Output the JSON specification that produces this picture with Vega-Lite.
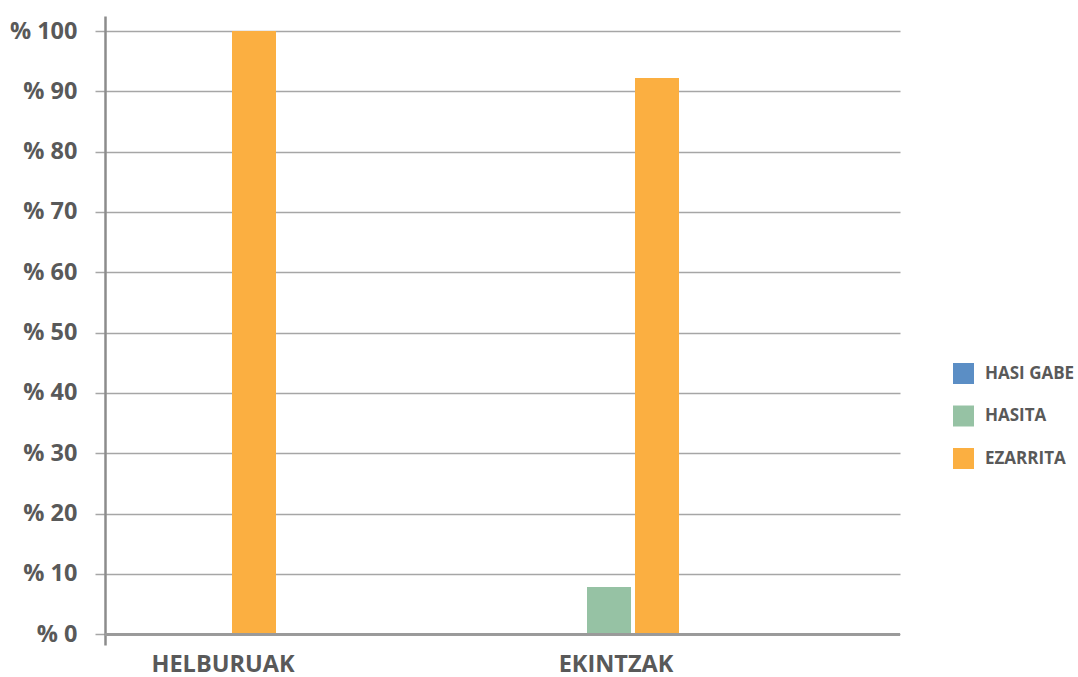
{
  "$schema": "https://vega.github.io/schema/vega-lite/v6.json",
  "width": 795,
  "height": 629,
  "autosize": "none",
  "padding": {"left": 105, "top": 16, "right": 178, "bottom": 32},
  "background": "#ffffff",
  "config": {
    "view": {"stroke": null},
    "font": "Open Sans",
    "axis": {"labelFont": "Open Sans", "labelFontWeight": "bold", "labelColor": "#595959"},
    "legend": {"labelFont": "Open Sans"}
  },
  "data": {
    "values": [
      {"kategoria": "HELBURUAK", "egoera": "HASI GABE", "ehunekoa": 0},
      {"kategoria": "HELBURUAK", "egoera": "HASITA", "ehunekoa": 0},
      {"kategoria": "HELBURUAK", "egoera": "EZARRITA", "ehunekoa": 100},
      {"kategoria": "EKINTZAK", "egoera": "HASI GABE", "ehunekoa": 0},
      {"kategoria": "EKINTZAK", "egoera": "HASITA", "ehunekoa": 7.8},
      {"kategoria": "EKINTZAK", "egoera": "EZARRITA", "ehunekoa": 92.2}
    ]
  },
  "layer": [
    {
      "mark": {"type": "bar"},
      "encoding": {
        "x": {
          "field": "kategoria",
          "type": "nominal",
          "sort": ["HELBURUAK", "EKINTZAK"],
          "scale": {"paddingInner": 0.0273, "paddingOuter": 0},
          "axis": {
            "title": null,
            "domain": false,
            "ticks": false,
            "labelAngle": 0,
            "labelFontSize": 23.5,
            "labelPadding": 7,
            "labelOffset": {"condition": {"test": "datum.value == 'EKINTZAK'", "value": -88}, "value": -78},
            "grid": false
          }
        },
        "xOffset": {
          "field": "egoera",
          "type": "nominal",
          "sort": ["HASI GABE", "HASITA", "EZARRITA"],
          "scale": {"paddingInner": 0.0833, "paddingOuter": 0, "range": [31, 171]}
        },
        "y": {
          "field": "ehunekoa",
          "type": "quantitative",
          "scale": {"domain": [-1.8, 102.5], "nice": false, "zero": false},
          "axis": {
            "title": null,
            "values": [0, 10, 20, 30, 40, 50, 60, 70, 80, 90, 100],
            "labelExpr": "'% ' + datum.value",
            "labelFontSize": 23.5,
            "labelPadding": 18,
            "tickSize": 10,
            "tickColor": "#a6a6a6",
            "tickWidth": 1.5,
            "grid": true,
            "gridColor": "#a6a6a6",
            "gridWidth": 1.5,
            "domain": true,
            "domainColor": "#8c8c8c",
            "domainWidth": 2.5
          }
        },
        "color": {
          "field": "egoera",
          "type": "nominal",
          "sort": ["HASI GABE", "HASITA", "EZARRITA"],
          "scale": {"domain": ["HASI GABE", "HASITA", "EZARRITA"], "range": ["#5B8EC5", "#96C2A4", "#FBAF41"]},
          "legend": {
            "title": null,
            "orient": "none",
            "legendX": 848,
            "legendY": 347,
            "symbolType": "square",
            "symbolSize": 441,
            "symbolStrokeWidth": 0,
            "symbolOpacity": 1,
            "labelFontSize": 17,
            "labelFontWeight": "bold",
            "labelColor": "#595959",
            "labelOffset": 11,
            "rowPadding": 21.5,
            "padding": 0
          }
        }
      }
    },
    {
      "mark": {"type": "rule", "color": "#9a9a9a", "strokeWidth": 2.5},
      "encoding": {"y": {"datum": 0, "type": "quantitative"}}
    }
  ]
}
